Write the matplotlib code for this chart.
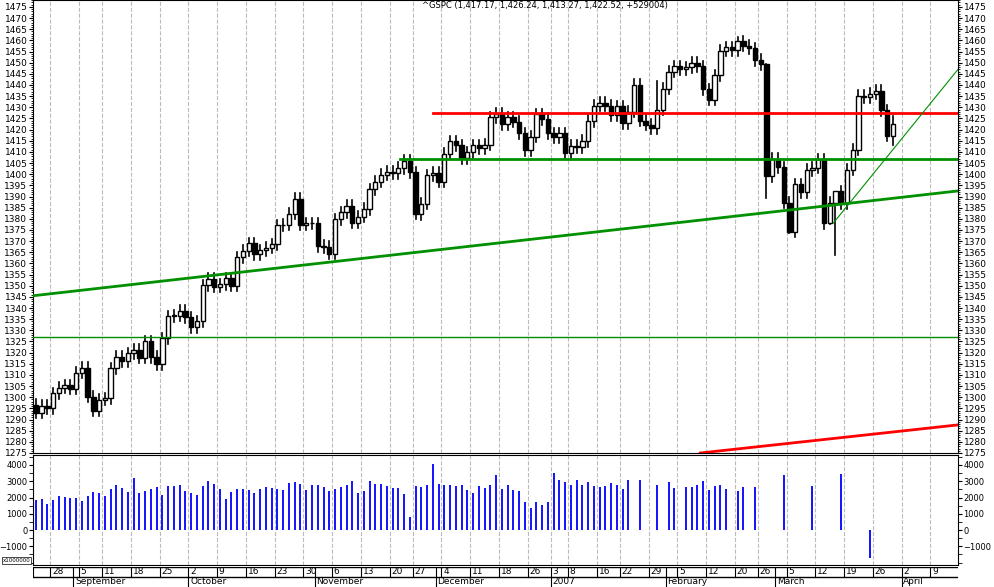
import matplotlib
matplotlib.use("Agg")
import matplotlib.pyplot as plt
from matplotlib.ticker import MultipleLocator
import numpy as np
import pandas as pd

# trading days shown (Aug 23 2006 .. Mar 29 2007)
holidays = ["2006-09-04", "2006-11-23", "2006-12-25", "2007-01-01", "2007-01-02",
            "2007-01-15", "2007-02-19"]
dates = [d for d in pd.bdate_range("2006-08-23", "2007-03-29") if d.strftime("%Y-%m-%d") not in holidays]
future = list(pd.bdate_range("2007-03-30", "2007-04-13"))

closes = [1292.99, 1296.06, 1295.09, 1301.78, 1304.28, 1305.37, 1303.82,
          1311.01, 1313.25, 1300.26, 1294.02, 1298.92, 1299.54, 1313.00, 1318.07, 1316.28, 1319.66,
          1321.18, 1317.64, 1325.18, 1318.03, 1314.78, 1326.37, 1336.35, 1336.59, 1338.88, 1335.85,
          1331.32, 1334.11, 1350.20, 1353.22, 1349.59, 1350.66, 1353.42, 1349.95, 1362.83, 1365.62,
          1369.06, 1364.05, 1365.80, 1366.96, 1368.60, 1377.02, 1377.38, 1382.22, 1389.08, 1377.34,
          1377.93, 1377.94,
          1367.81, 1367.34, 1364.30, 1379.78, 1382.84, 1385.72, 1378.33, 1380.90, 1384.42, 1393.22,
          1396.57, 1399.76, 1401.20, 1400.50, 1402.81, 1406.09, 1400.95, 1381.96, 1386.72, 1399.48,
          1400.63,
          1396.71, 1409.12, 1414.76, 1412.90, 1407.29, 1409.84, 1413.04, 1411.56, 1413.21, 1425.49,
          1427.09, 1422.48, 1425.55, 1423.53, 1418.30, 1410.76, 1416.90, 1426.84, 1424.73, 1418.30,
          1416.60, 1418.34, 1409.71, 1412.84, 1412.11, 1414.85, 1423.82, 1430.73, 1431.90, 1430.62,
          1426.37, 1430.50, 1422.95, 1427.99, 1440.13, 1423.90, 1422.18, 1420.62, 1428.82, 1438.24,
          1445.94, 1448.39, 1446.99, 1448.00, 1450.02, 1448.31, 1438.06, 1433.37, 1444.26, 1455.30,
          1456.81, 1455.54, 1459.68, 1457.63, 1456.38, 1451.19, 1449.37, 1399.04, 1406.82,
          1403.17, 1387.17, 1374.12, 1395.41, 1391.97, 1401.89, 1402.84, 1406.60, 1377.95, 1387.17,
          1392.28, 1386.95, 1402.06, 1410.94, 1435.04, 1434.54, 1436.11, 1437.50, 1428.61, 1417.23,
          1422.52]
first_open = 1296.60
# known highs / lows of the big days (others get a small wick)
high_fix = {127: 1449.25, 139: 1390.0, 149: 1426.24, 122: 1461.6, 108: 1441.6}
low_fix = {127: 1389.42, 139: 1363.98, 149: 1413.27, 131: 1373.8, 138: 1377.7, 66: 1380.0}

volume = [1840, 1900, 1600, 1840, 2100, 2040, 1960, 1940, 1800, 2100, 2340, 2260, 2100, 2500,
          2760, 2560, 2340, 3180, 2300, 2380, 2500, 2640, 2160, 2720, 2720, 2760, 2400, 2260,
          2160, 2700, 3000, 2840, 2500, 1900, 2340, 2500, 2500, 2440, 2280, 2500, 2640, 2560,
          2500, 2460, 2880, 2940, 2840, 2460,
          2760, 2800, 2660, 2400, 2540, 2660, 2760, 3000, 2300, 2400, 3000, 2840, 2840, 2700,
          2600, 2600, 2200, 820, 2700, 2660, 2760, 4040, 2840, 2760, 2760, 2700, 2760, 2460,
          2300, 2700, 2560, 2770, 3380, 2540, 2770, 2460, 2400, 1720, 1350, 1720, 1540, 1720,
          3530, 3080, 2970, 2800, 3080, 2800, 2970, 2690, 2620, 2690, 2870, 2800, 2540, 3080,
          np.nan, 3080, np.nan, np.nan, 2770, np.nan, 2970, 2560, np.nan, 2620, 2620, 2800, 3030,
          2460, 2690, 2770, 2520, np.nan, 2420, 2620, np.nan, 2620, np.nan, np.nan, np.nan,
          np.nan, 3380, np.nan, np.nan, np.nan, np.nan, 2690, np.nan, np.nan, np.nan, np.nan,
          3440, np.nan, np.nan, np.nan, np.nan, -1740, np.nan, np.nan, np.nan, np.nan]

opens = [first_open] + closes[:-1]
n = len(closes)
idx = np.arange(n)
XMIN, XMAX = -0.5, 160.3

W, H = 994, 587
fig = plt.figure(figsize=(W / 100, H / 100), dpi=100)
fig.patch.set_facecolor("white")

def box(l, t, r, b):
    return [l / W, 1 - b / H, (r - l) / W, (b - t) / H]

ax = fig.add_axes(box(33, 0, 958, 453))
axv = fig.add_axes(box(33, 455, 958, 565))
axd = fig.add_axes(box(33, 567, 958, 587))

all_days = dates + future
week_pos = [i for i in range(len(all_days)) if i == 0 or all_days[i].weekday() < all_days[i - 1].weekday()]
month_pos = [i for i in range(1, len(all_days)) if all_days[i].month != all_days[i - 1].month]

# candles
for i in idx:
    o, c = opens[i], closes[i]
    hi = high_fix.get(i, max(o, c) + 2.5)
    lo = low_fix.get(i, min(o, c) - 2.5)
    ax.plot([i, i], [lo, hi], color="black", lw=1.2, zorder=3)
    face = "white" if c >= o else "black"
    bot, h = min(o, c), max(abs(c - o), 0.4)
    ax.add_patch(plt.Rectangle((i - 0.38, bot), 0.76, h, facecolor=face, edgecolor="black",
                               lw=1.0, zorder=4))

# trend lines
ax.plot([XMIN, XMAX], [1345.5, 1392.5], color="#009000", lw=2, zorder=5)
ax.plot([63.3, XMAX], [1406.6, 1406.6], color="#009000", lw=2, zorder=5)
ax.plot([69.0, XMAX], [1427.6, 1427.6], color="#ff0000", lw=2, zorder=5)
ax.plot([XMIN, XMAX], [1327.0, 1327.0], color="#009000", lw=1, zorder=5)
ax.plot([138.6, XMAX], [1378.0, 1447.0], color="#009000", lw=0.8, zorder=5)
ax.plot([115.5, XMAX], [1275.0, 1287.6], color="#ff0000", lw=2, zorder=5)

ax.set_xlim(XMIN, XMAX)
ax.set_ylim(1275, 1478.1)
ax.yaxis.set_major_locator(MultipleLocator(5))
ax.yaxis.set_minor_locator(MultipleLocator(1))
ax.tick_params(axis="y", which="both", left=True, right=True, labelleft=True, labelright=True,
               labelsize=6.5, length=3, direction="out", pad=1)
ax.tick_params(axis="y", which="minor", length=1.5)
ax.set_xticks([])
for p in week_pos:
    ax.axvline(p - 0.5, color="#bbbbbb", ls="--", lw=0.8, zorder=1)
ax.text(0.42, 0.997, "^GSPC (1,417.17, 1,426.24, 1,413.27, 1,422.52, +529004)",
        transform=ax.transAxes, fontsize=6, va="top", ha="left")

# volume
vol = np.array(volume, dtype=float)
axv.vlines(idx, 0, vol, colors="blue", lw=1.3)
axv.set_xlim(XMIN, XMAX)
axv.set_ylim(-2150, 4615)
axv.yaxis.set_minor_locator(MultipleLocator(500))
axv.set_yticks([-1000, 0, 1000, 2000, 3000, 4000])
axv.tick_params(axis="y", which="both", left=True, right=True, labelleft=True, labelright=True,
                labelsize=6, length=3, direction="out", pad=1)
axv.set_xticks([])
for p in week_pos:
    axv.axvline(p - 0.5, color="#bbbbbb", ls="--", lw=0.8, zorder=0)
fig.text(3 / W, 1 - 563 / H, "x1000000", fontsize=4, ha="left", va="bottom",
         bbox=dict(facecolor="white", edgecolor="black", lw=0.5, pad=0.5))

# date strip
axd.set_xlim(XMIN, XMAX)
axd.set_ylim(0, 2)
axd.set_xticks([])
axd.set_yticks([])
for s in axd.spines.values():
    s.set_visible(False)
axd.axhline(2, color="black", lw=1)
axd.axhline(1, color="black", lw=1)
for p in sorted(set(week_pos + month_pos)):
    axd.plot([p - 0.5, p - 0.5], [1, 2], color="black", lw=0.8)
for p in week_pos[1:]:
    axd.text(p - 0.2, 1.5, str(all_days[p].day), fontsize=6.5, va="center", ha="left")
month_names = {9: "September", 10: "October", 11: "November", 12: "December", 1: "2007",
               2: "February", 3: "March", 4: "April"}
for p in month_pos:
    axd.plot([p - 0.5, p - 0.5], [0, 1], color="black", lw=0.8)
    axd.text(p - 0.2, 0.5, month_names[all_days[p].month], fontsize=6.5, va="center", ha="left")

fig.savefig("out.png", dpi=100)
